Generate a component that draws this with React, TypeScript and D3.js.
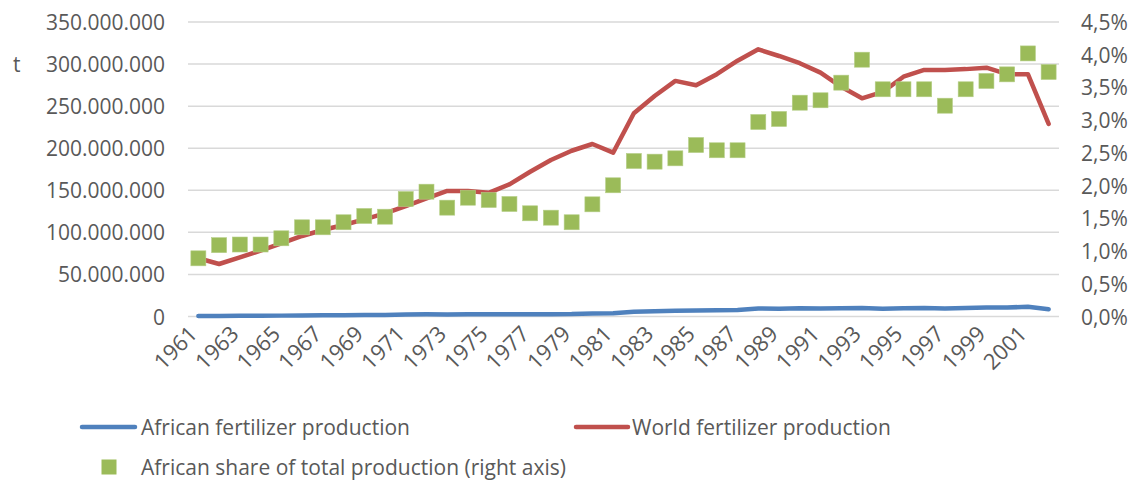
import React from 'react';
import * as d3 from 'd3';

const years = [
  1961, 1962, 1963, 1964, 1965, 1966, 1967, 1968, 1969, 1970,
  1971, 1972, 1973, 1974, 1975, 1976, 1977, 1978, 1979, 1980,
  1981, 1982, 1983, 1984, 1985, 1986, 1987, 1988, 1989, 1990,
  1991, 1992, 1993, 1994, 1995, 1996, 1997, 1998, 1999, 2000,
  2001, 2002,
];

// million tonnes
const worldProduction = [
  69.2, 62.4, 70.3, 78.2, 87, 95.7, 102.8, 108.7, 115.5, 122.6,
  131.3, 140.5, 149.2, 149.2, 147, 157.1, 172, 186, 197, 205,
  194.7, 241.5, 262, 280, 274.8, 288, 304, 317.5, 309.6, 301,
  289.8, 273, 259.3, 267, 285, 293, 293, 294, 295.7, 288,
  288, 228.8,
];

// million tonnes
const africanProduction = [
  0.62, 0.68, 0.77, 0.86, 1.04, 1.3, 1.4, 1.57, 1.77, 1.87,
  2.36, 2.68, 2.48, 2.71, 2.63, 2.7, 2.71, 2.81, 2.84, 3.51,
  3.9, 5.74, 6.2, 6.77, 7.2, 7.32, 7.72, 9.44, 9.34, 9.83,
  9.58, 9.75, 10.17, 9.27, 9.9, 10.17, 9.44, 10.21, 10.64, 10.66,
  11.58, 8.55,
];

// percent
const africanShare = [
  0.889, 1.09, 1.1, 1.1, 1.195, 1.363, 1.363, 1.44, 1.536, 1.525,
  1.795, 1.907, 1.663, 1.815, 1.78, 1.719, 1.577, 1.51, 1.44, 1.714,
  2.005, 2.376, 2.366, 2.417, 2.62, 2.54, 2.54, 2.972, 3.018, 3.267,
  3.304, 3.573, 3.924, 3.472, 3.472, 3.472, 3.221, 3.472, 3.599, 3.7,
  4.02, 3.736,
];

const leftTicks = [0, 50, 100, 150, 200, 250, 300, 350];
const rightTicks = [0, 0.5, 1, 1.5, 2, 2.5, 3, 3.5, 4, 4.5];
const yearLabels = [
  1961, 1963, 1965, 1967, 1969, 1971, 1973, 1975, 1977, 1979, 1981,
  1983, 1985, 1987, 1989, 1991, 1993, 1995, 1997, 1999, 2001,
];

const locale = d3.formatLocale({ decimal: ',', thousands: '.', grouping: [3], currency: ['', ''] });
const fmtLeft = locale.format(',.0f');
const fmtRight = locale.format('.1f');

const FONT = "'Open Sans', sans-serif";
const TXT = '#595959';

export default function App() {
  const W = 1134, H = 485;
  const left = 188, right = 1059, top = 22, bottom = 316.5;
  const x = d3.scaleBand<number>().domain(years).range([left, right]).padding(0);
  const cx = (yr: number) => (x(yr) as number) + x.bandwidth() / 2;
  const yL = d3.scaleLinear().domain([0, 350]).range([bottom, top]);
  const yR = d3.scaleLinear().domain([0, 4.5]).range([bottom, top]);

  const line = d3.line<number>().x((_, i) => cx(years[i]));
  const worldPath = line.y((d) => yL(d))(worldProduction) as string;
  const africaPath = line.y((d) => yL(d))(africanProduction) as string;

  const ms = 15;

  return (
    <svg width={W} height={H} style={{ position: 'absolute', left: 0, top: 0, background: '#fff' }} fontFamily={FONT}>
      <rect x={0} y={0} width={W} height={H} fill="#fff" />
      {leftTicks.map((t) => (
        <line key={'g' + t} x1={left} x2={right} y1={yL(t)} y2={yL(t)} stroke="#D9D9D9" strokeWidth={1.5} />
      ))}
      {leftTicks.map((t) => (
        <text key={'l' + t} x={165} y={yL(t)} textAnchor="end" dominantBaseline="central" fontSize={21} fill={TXT}>
          {fmtLeft(t * 1e6)}
        </text>
      ))}
      <text x={13} y={yL(300)} dominantBaseline="central" fontSize={21} fill={TXT}>t</text>
      {rightTicks.map((t) => (
        <text key={'r' + t} x={1081} y={yR(t)} textAnchor="start" dominantBaseline="central" fontSize={21} fill={TXT}>
          {fmtRight(t) + '%'}
        </text>
      ))}
      {yearLabels.map((yr) => (
        <text
          key={'y' + yr}
          transform={`translate(${cx(yr) - 6},${329}) rotate(-45)`}
          textAnchor="end"
          dominantBaseline="central"
          fontSize={22}
          fill={TXT}
        >
          {yr}
        </text>
      ))}
      <path d={africaPath} fill="none" stroke="#4F81BD" strokeWidth={4.5} strokeLinejoin="round" strokeLinecap="round" />
      <path d={worldPath} fill="none" stroke="#C0504D" strokeWidth={4.5} strokeLinejoin="round" strokeLinecap="round" />
      {africanShare.map((s, i) => (
        <rect
          key={'m' + i}
          x={cx(years[i]) - ms / 2}
          y={yR(s) - ms / 2}
          width={ms}
          height={ms}
          fill="#9BBB59"
          stroke="#B5CE86"
          strokeWidth={0.6}
        />
      ))}
      {/* legend */}
      <line x1={82} x2={135} y1={427} y2={427} stroke="#4F81BD" strokeWidth={4.5} strokeLinecap="round" />
      <text x={141} y={427} dominantBaseline="central" fontSize={21} fill={TXT}>African fertilizer production</text>
      <line x1={576} x2={628} y1={427} y2={427} stroke="#C0504D" strokeWidth={4.5} strokeLinecap="round" />
      <text x={632} y={427} dominantBaseline="central" fontSize={21} fill={TXT}>World fertilizer production</text>
      <rect x={109 - ms / 2} y={467 - ms / 2} width={ms} height={ms} fill="#9BBB59" />
      <text x={141} y={467} dominantBaseline="central" fontSize={21} fill={TXT}>African share of total production (right axis)</text>
    </svg>
  );
}
